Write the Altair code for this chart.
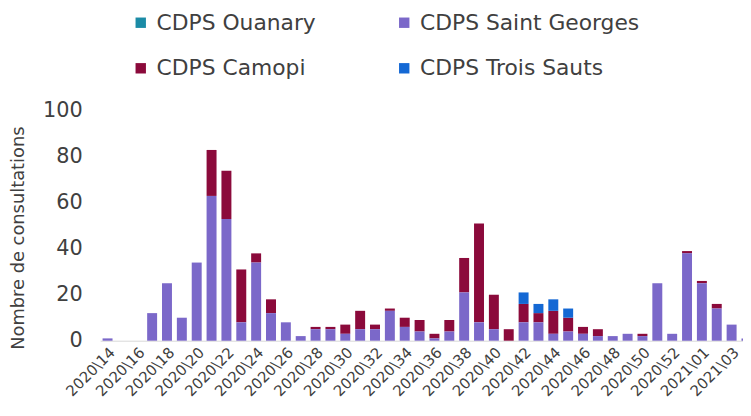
import altair as alt
import pandas as pd

# weeks 2020\14 .. 2020\53, then 2021\01 .. 2021\04
weeks = [f"2020\\{w}" for w in range(14, 54)] + [f"2021\\{w:02d}" for w in range(1, 5)]

saint_georges = [1, 0, 0, 12, 25, 10, 34, 63, 53, 8, 34, 12, 8, 2, 5, 5, 3, 5, 5, 13,
                 6, 4, 1, 4, 21, 8, 5, 0, 8, 8, 3, 4, 3, 2, 2, 3, 2, 25, 3, 38,
                 25, 14, 7, 1]
camopi = [0, 0, 0, 0, 0, 0, 0, 20, 21, 23, 4, 6, 0, 0, 1, 1, 4, 8, 2, 1,
          4, 5, 2, 5, 15, 43, 15, 5, 8, 4, 10, 6, 3, 3, 0, 0, 1, 0, 0, 1,
          1, 2, 0, 0]
trois_sauts = [0] * 28 + [5, 4, 5, 4] + [0] * 12
ouanary = [0] * 44

# legend fills column by column, so this order gives the reference's rows
sites = ["CDPS Ouanary", "CDPS Camopi", "CDPS Saint Georges", "CDPS Trois Sauts"]
colors = ["#1b8ba6", "#8b0a3b", "#7b68c9", "#1468d4"]
stack_order = {"CDPS Saint Georges": 0, "CDPS Camopi": 1, "CDPS Trois Sauts": 2, "CDPS Ouanary": 3}
values = {"CDPS Ouanary": ouanary, "CDPS Camopi": camopi,
          "CDPS Saint Georges": saint_georges, "CDPS Trois Sauts": trois_sauts}

rows = []
for site in sites:
    for wk, v in zip(weeks, values[site]):
        rows.append({"semaine": wk, "site": site, "n": v, "ord": stack_order[site]})
df = pd.DataFrame(rows)

font = "DejaVu Sans"
text_color = "#404040"

chart = alt.Chart(df).mark_bar().encode(
    x=alt.X("semaine:N", sort=weeks, title=None,
            scale=alt.Scale(paddingInner=0.33, paddingOuter=0.165, range=[0, 660]),
            axis=alt.Axis(values=weeks[::2], labelAngle=-45, labelFontSize=15,
                          labelPadding=4, ticks=False, domainColor="#d9d9d9",
                          labelColor=text_color, labelFont=font)),
    y=alt.Y("n:Q", stack="zero", title="Nombre de consultations",
            scale=alt.Scale(domain=[0, 100]),
            axis=alt.Axis(values=[0, 20, 40, 60, 80, 100], grid=False, domain=False,
                          ticks=False, labelFontSize=21, labelPadding=18,
                          labelColor=text_color, labelFont=font,
                          titleFont=font, titleFontSize=18, titleFontWeight="normal",
                          titleColor=text_color, titleX=-73, titleY=128,
                          titleAngle=-90, titleBaseline="bottom", titleAlign="center")),
    color=alt.Color("site:N", scale=alt.Scale(domain=sites, range=colors),
                    legend=alt.Legend(title=None, orient="none", legendX=30, legendY=-100,
                                      columns=2, columnPadding=78, rowPadding=24,
                                      symbolType="square", symbolSize=110,
                                      symbolStrokeWidth=0, labelFontSize=22,
                                      labelFont=font, labelColor=text_color,
                                      labelOffset=5, labelLimit=400)),
    order=alt.Order("ord:Q", sort="ascending"),
).properties(
    width=649,
    height=232,
    autosize=alt.AutoSizeParams(type="none"),
    padding={"left": 93, "top": 102, "right": 0, "bottom": 58},
).configure_view(stroke=None)

chart.save("out.html", embed_options={"renderer": "svg", "actions": False})
